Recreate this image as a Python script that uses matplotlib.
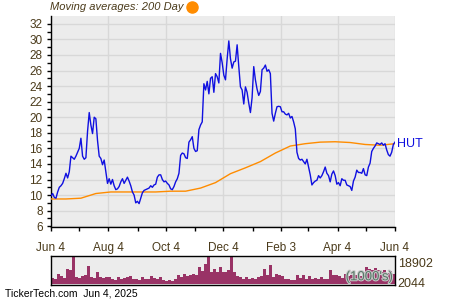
import numpy as np
import pandas as pd
import matplotlib
matplotlib.use("Agg")
import matplotlib.pyplot as plt
import matplotlib.dates as mdates
import matplotlib.patheffects as pe
from matplotlib.lines import Line2D

plt.rcParams['font.family'] = ['Liberation Sans', 'DejaVu Sans']

start = pd.Timestamp("2024-06-04")
end = pd.Timestamp("2025-06-04")

price = [
    9.9, 10.2, 9.7, 9.6, 10.4, 11.0, 11.2, 11.5, 12.1, 12.8, 12.2, 13.0,
    15.0, 14.8, 14.6, 15.0, 15.5, 16.0, 17.3, 15.0, 14.6, 14.8, 18.2, 20.6,
    19.0, 17.9, 20.0, 19.8, 17.0, 15.0, 14.7, 13.9, 14.5, 13.0, 11.5, 12.1,
    11.4, 12.0, 11.2, 10.7, 10.8, 11.1, 11.7, 12.1, 11.5, 11.9, 12.3, 11.8,
    11.2, 10.4, 10.0, 9.0, 9.2, 8.9, 9.6, 10.3, 10.6, 10.7, 10.8, 10.9,
    11.2, 11.0, 11.3, 11.4, 12.3, 12.6, 12.6, 12.0, 11.7, 11.8, 11.5, 11.3,
    10.8, 10.7, 11.1, 11.7, 12.1, 12.8, 15.1, 15.4, 15.3, 14.8, 14.7, 16.8,
    17.1, 17.5, 16.0, 15.6, 15.7, 18.4, 19.0, 19.4, 24.3, 23.5, 24.6, 23.0,
    25.0, 25.2, 23.2, 25.6, 25.2, 24.4, 28.2, 27.0, 25.4, 24.8, 27.5, 29.8,
    27.5, 26.3, 27.1, 27.2, 29.3, 26.5, 23.9, 23.5, 21.7, 23.9, 23.2, 21.8,
    20.6, 22.5, 26.5, 24.8, 23.6, 22.8, 23.3, 26.1, 26.3, 26.7, 25.9, 26.1,
    25.6, 20.5, 19.5, 20.5, 21.35, 21.4, 21.35, 20.7, 20.7, 20.4, 20.3, 20.5,
    19.9, 20.1, 19.4, 18.5, 15.5, 14.7, 14.5, 14.6, 14.3, 14.0, 14.6, 13.6,
    12.6, 11.3, 11.6, 11.8, 11.9, 12.5, 12.2, 12.5, 13.0, 13.6, 12.8, 12.5,
    11.7, 12.7, 13.1, 12.5, 11.4, 11.6, 11.2, 12.1, 11.9, 11.9, 11.3, 11.2,
    11.1, 10.6, 11.8, 12.3, 13.2, 12.9, 12.9, 12.8, 13.4, 12.6, 12.5, 13.6,
    14.1, 15.6, 16.0, 16.3, 16.7, 16.6, 16.5, 16.7, 16.4, 16.6, 15.8, 15.2,
    15.0, 15.5, 16.5, 16.8,
]

ma200 = [9.5, 9.5, 9.6, 10.2, 10.4, 10.4, 10.4, 10.4, 10.5, 10.5, 10.9, 11.6,
         12.75, 13.5, 14.3, 15.4, 16.3, 16.6, 16.8, 16.85, 16.75, 16.5, 16.4, 16.6]

volume_k = [
    5.6, 5.0, 9.4, 7.4, 5.6, 13.9, 12.4, 25.0, 6.5, 5.6, 7.4, 8.0,
    16.2, 6.5, 5.6, 10.9, 6.5, 5.6, 6.2, 6.5, 5.0, 3.5, 6.5, 5.0,
    5.6, 6.5, 7.4, 5.0, 4.4, 3.5, 6.5, 5.0, 4.4, 7.4, 5.6, 5.0,
    6.5, 3.5, 2.6, 3.5, 3.2, 5.0, 8.5, 6.5, 9.4, 7.4, 8.0, 9.4,
    8.0, 15.4, 11.5, 18.3, 25.0, 10.9, 13.9, 10.9, 15.4, 10.9,
    10.9, 12.4, 25.0, 10.9, 7.4, 6.5, 5.0, 6.5, 4.4, 5.6, 5.0, 6.5,
    7.4, 13.9, 8.0, 17.4, 6.5, 9.4, 8.0, 7.4, 5.0, 4.4, 3.5, 3.5,
    8.5, 5.6, 8.0, 5.0, 7.4, 5.0, 5.6, 4.4, 6.2, 4.4, 5.0, 12.4,
    8.0, 8.5, 7.4, 5.6, 9.4, 7.4, 8.5, 8.0, 8.0, 7.4, 10.9, 15.4,
    13.9, 12.4, 14.5, 12.4, 10.9, 12.4, 10.3, 11.5, 9.4,
]

xtick_dates = ["2024-06-04", "2024-08-04", "2024-10-04", "2024-12-04",
               "2025-02-03", "2025-04-04", "2025-06-04"]
xtick_labels = ["Jun 4", "Aug 4", "Oct 4", "Dec 4", "Feb 3", "Apr 4", "Jun 4"]
xminor_dates = ["2024-07-04", "2024-09-04", "2024-11-04", "2025-01-04",
                "2025-03-04", "2025-05-04"]
yticks = list(range(6, 33, 2))
vol_labels = [2044, 18902]

txt = "#4a3a1a"
bg = "#ececec"
grid_c = "#d8d8d8"

price_dates = pd.to_datetime(np.linspace(start.value, end.value, len(price)))
ma_dates = pd.to_datetime(np.linspace(start.value, end.value, len(ma200)))
vol_edges = np.linspace(mdates.date2num(start), mdates.date2num(end), len(volume_k) + 1)
vol_x = vol_edges[:-1]
vol_w = np.diff(vol_edges)

fig = plt.figure(figsize=(4.5, 3.0), dpi=100)
ax = fig.add_axes([51/450, 1-227/300, 344/450, 211/300])
ax.set_facecolor(bg)
ax.plot(ma_dates, ma200, color="#ff8c00", lw=1.0, zorder=3)
ax.plot(price_dates, price, color="#1010e0", lw=1.0, zorder=4)
ax.set_xlim(start, end)
ax.set_ylim(5.9, 33)
ax.set_yticks(yticks)
ax.set_yticks(np.arange(7, 33, 2), minor=True)
ax.set_xticks(pd.to_datetime(xtick_dates))
ax.set_xticklabels(xtick_labels)
ax.set_xticks(pd.to_datetime(xminor_dates), minor=True)
ax.grid(True, which="major", color=grid_c, lw=1.0)
ax.set_axisbelow(True)
for s in ["top", "right"]:
    ax.spines[s].set_visible(False)
for s in ["left", "bottom"]:
    ax.spines[s].set_color("black")
    ax.spines[s].set_linewidth(1.0)
ax.tick_params(which="both", direction="out", length=3, width=1, colors="black",
               labelcolor=txt, labelsize=8.5)
ax.tick_params(axis="y", pad=3)
ax.tick_params(axis="x", pad=8)
ax.text(1.005, (price[-1] - 5.9) / (33 - 5.9) - 0.01, "HUT", transform=ax.transAxes,
        color="#1010e0", fontsize=9, va="center", ha="left")

vax = fig.add_axes([51/450, 1-285/300, 344/450, 29/300])
vax.set_facecolor(bg)
vax.bar(vol_x, volume_k, width=vol_w, align="edge", color="#993366", lw=0)
vax.set_xlim(mdates.date2num(start), mdates.date2num(end))
vax.set_ylim(-0.6, 25.1)
vax.set_xticks([])
vax.yaxis.tick_right()
vax.set_yticks([v / 1000 for v in vol_labels])
vax.set_yticklabels([str(v) for v in vol_labels])
vax.tick_params(axis="y", length=0, pad=2, labelcolor=txt, labelsize=9)
for s in vax.spines.values():
    s.set_color("black")
    s.set_linewidth(1.0)
vax.text(0.995, 0.06, "(1000's)", transform=vax.transAxes, ha="right", va="bottom",
         fontsize=9.5, color="#557766",
         path_effects=[pe.withStroke(linewidth=1.5, foreground="#c8c8c8")])

fig.text(50/450, 1-7/300, "Moving averages: 200 Day", fontsize=8, style="italic",
         color=txt, ha="left", va="center")
fig.add_artist(Line2D([192/450], [1-7/300], marker="o", markersize=8,
                      color="#ff8c00", transform=fig.transFigure))
fig.text(5/450, 1-294/300, "TickerTech.com  Jun 4, 2025", fontsize=7.5, color="black",
         ha="left", va="center")

fig.savefig("out.png", dpi=100)
